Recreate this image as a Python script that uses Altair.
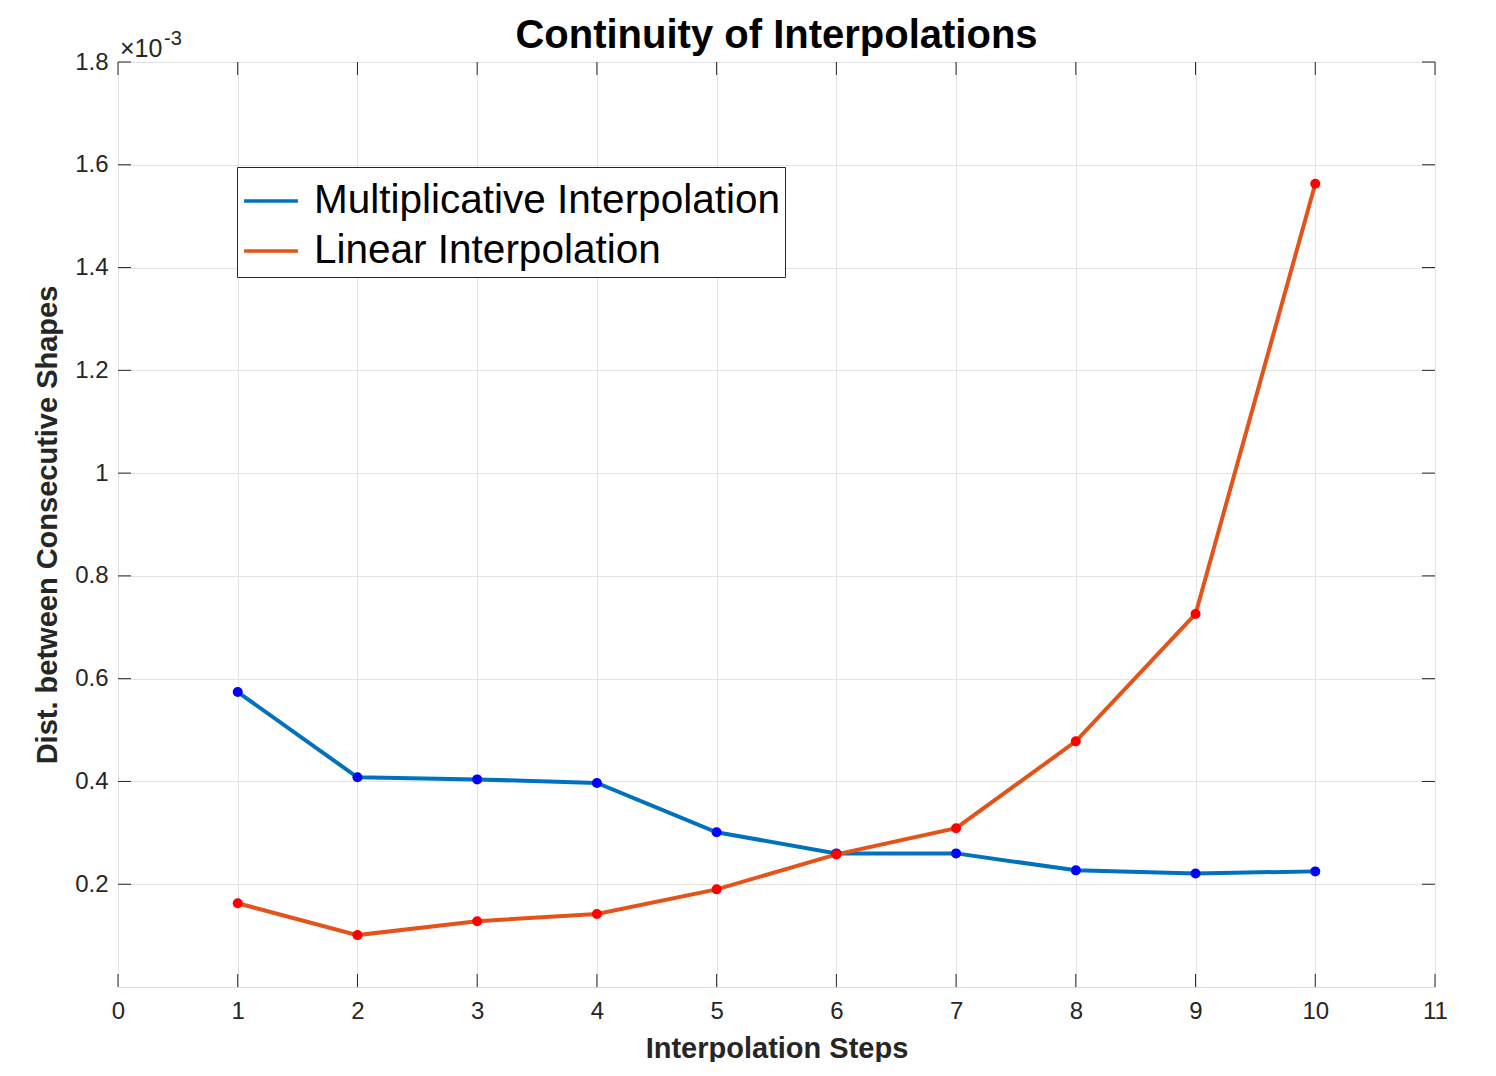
import altair as alt
import pandas as pd

steps = [1, 2, 3, 4, 5, 6, 7, 8, 9, 10]
multiplicative = [0.574, 0.408, 0.404, 0.397, 0.301, 0.260, 0.260, 0.227, 0.221, 0.225]
linear = [0.163, 0.101, 0.128, 0.142, 0.190, 0.258, 0.309, 0.478, 0.726, 1.563]
series_names = ["Multiplicative Interpolation", "Linear Interpolation"]
line_colors = ["#0072BD", "#E4531A"]
dot_colors = ["#0000FF", "#FF0000"]
x_ticks = list(range(0, 12))
y_ticks = [0.2, 0.4, 0.6, 0.8, 1.0, 1.2, 1.4, 1.6, 1.8]
title_text = "Continuity of Interpolations"

rows = []
for s, v in zip(steps, multiplicative):
    rows.append({"step": s, "value": v, "series": series_names[0]})
for s, v in zip(steps, linear):
    rows.append({"step": s, "value": v, "series": series_names[1]})
df = pd.DataFrame(rows)

W, H = 1317, 925
FONT = "Liberation Sans"
TXT = "#262626"

xscale = alt.Scale(domain=[0, 11], nice=False)
yscale = alt.Scale(domain=[0, 1.8], nice=False)

xaxis = alt.Axis(values=x_ticks, format="d", ticks=False, domain=False, labelFlush=False,
                 labelFontSize=24, labelColor=TXT, labelPadding=12, labelFont=FONT,
                 title="Interpolation Steps", titleFontSize=29, titleFont=FONT,
                 titleFontWeight="bold", titleColor=TXT, titlePadding=11,
                 gridColor="#E3E3E3", gridWidth=1)
yaxis = alt.Axis(values=y_ticks, format="~g", ticks=False, domain=False, labelFlush=False,
                 labelFontSize=24, labelColor=TXT, labelPadding=10, labelFont=FONT,
                 title="Dist. between Consecutive Shapes", titleFontSize=29, titleFont=FONT,
                 titleFontWeight="bold", titleColor=TXT, titlePadding=12,
                 gridColor="#E3E3E3", gridWidth=1)

base = alt.Chart(df)

lines = base.mark_line(strokeWidth=4).encode(
    x=alt.X("step:Q", scale=xscale, axis=xaxis),
    y=alt.Y("value:Q", scale=yscale, axis=yaxis),
    color=alt.Color("series:N",
                    scale=alt.Scale(domain=series_names, range=line_colors),
                    sort=series_names,
                    legend=alt.Legend(title=None, orient="none", legendX=119, legendY=105,
                                      symbolType="stroke", symbolSize=2900, symbolStrokeWidth=3.5,
                                      labelFontSize=40.5, labelFont=FONT, labelColor="#000000",
                                      labelLimit=0, labelOffset=14,
                                      strokeColor="#262626", fillColor="white", padding=5,
                                      rowPadding=0, symbolOffset=0)),
    detail="series:N",
)

dots = base.mark_point(filled=True, size=100, opacity=1).encode(
    x=alt.X("step:Q", scale=xscale),
    y=alt.Y("value:Q", scale=yscale),
    fill=alt.Fill("series:N", scale=alt.Scale(domain=series_names, range=dot_colors), legend=None),
)

xt = pd.DataFrame({"t": x_ticks})
yt = pd.DataFrame({"t": y_ticks})
tick_len = 13
xt_bot = alt.Chart(xt).mark_rule(color=TXT, strokeWidth=1).encode(
    x=alt.X("t:Q", scale=xscale), y=alt.value(H - tick_len), y2=alt.value(H))
xt_top = alt.Chart(xt).mark_rule(color=TXT, strokeWidth=1).encode(
    x=alt.X("t:Q", scale=xscale), y=alt.value(0), y2=alt.value(tick_len))
yt_left = alt.Chart(yt).mark_rule(color=TXT, strokeWidth=1).encode(
    y=alt.Y("t:Q", scale=yscale), x=alt.value(0), x2=alt.value(tick_len))
yt_right = alt.Chart(yt).mark_rule(color=TXT, strokeWidth=1).encode(
    y=alt.Y("t:Q", scale=yscale), x=alt.value(W - tick_len), x2=alt.value(W))

exp_main = alt.Chart(pd.DataFrame({"s": ["×10"]})).mark_text(
    align="left", baseline="alphabetic", fontSize=25, font=FONT, color=TXT
).encode(text="s:N", x=alt.value(2), y=alt.value(-5))
exp_sup = alt.Chart(pd.DataFrame({"s": ["-3"]})).mark_text(
    align="left", baseline="alphabetic", fontSize=20, font=FONT, color=TXT
).encode(text="s:N", x=alt.value(46), y=alt.value(-17))

title = alt.Chart(pd.DataFrame({"s": [title_text]})).mark_text(
    align="center", baseline="alphabetic", fontSize=40, font=FONT, fontWeight="bold", color="#000000"
).encode(text="s:N", x=alt.value(W / 2), y=alt.value(-14))

chart = alt.layer(lines, dots, xt_bot, xt_top, yt_left, yt_right, exp_main, exp_sup, title).properties(
    width=W, height=H,
    autosize=alt.AutoSizeParams(type="none"),
    padding={"left": 110, "top": 54, "right": 45, "bottom": 75},
).configure_view(stroke=TXT, strokeWidth=1.2).configure(background="white")

chart.save("out.html", embed_options={"renderer": "svg", "actions": False})
